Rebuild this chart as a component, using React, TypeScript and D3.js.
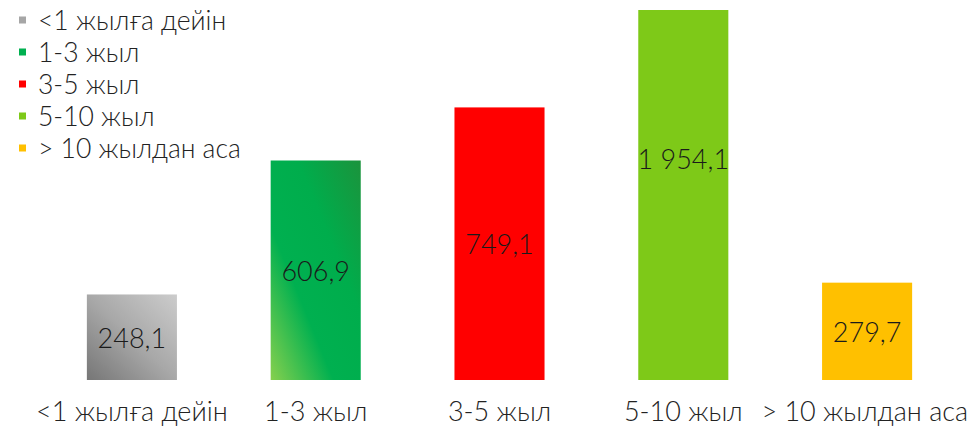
import React from "react";
import * as d3 from "d3";

const categories = ["<1 жылға дейін", "1-3 жыл", "3-5 жыл", "5-10 жыл", "> 10 жылдан аса"];
const values = [248.1, 606.9, 749.1, 1954.1, 279.7];
const valueLabels = ["248,1", "606,9", "749,1", "1 954,1", "279,7"];
const legendColors = ["#a6a6a6", "#00b050", "#ff0000", "#7ec918", "#ffc000"];

const W = 971;
const H = 429;

export default function App() {
  const x = d3.scaleBand<string>().domain(categories).range([40, 959]).paddingInner(0.51).paddingOuter(0.255);
  const y = d3.scaleLinear().domain([19, 1010]).range([380, 10]).clamp(true);
  const font = "Lato, 'Open Sans', sans-serif";
  const fills = ["url(#gGray)", "url(#gGreen)", "#ff0000", "#7ec918", "#ffc000"];
  const last = categories.length - 1;

  return (
    <svg width={W} height={H} style={{ position: "absolute", left: 0, top: 0, background: "#fff" }}>
      <defs>
        <linearGradient id="gGray" x1="0" y1="1" x2="1" y2="0">
          <stop offset="0" stopColor="#767676" />
          <stop offset="0.5" stopColor="#a8a8a8" />
          <stop offset="1" stopColor="#cccccc" />
        </linearGradient>
        <linearGradient id="gGreen" x1="0" y1="1" x2="1" y2="0">
          <stop offset="0" stopColor="#86d04e" />
          <stop offset="0.35" stopColor="#00b050" />
          <stop offset="0.65" stopColor="#00ad4c" />
          <stop offset="1" stopColor="#1b933c" />
        </linearGradient>
      </defs>
      {categories.map((c, i) => {
        const x0 = x(c)!;
        const top = y(values[i]);
        const base = y(19);
        const clipped = values[i] > y.domain()[1];
        const ly = clipped ? base - (base - top) * 0.6 : (top + base) / 2;
        return (
          <g key={c}>
            <rect x={x0} y={top} width={x.bandwidth()} height={base - top} fill={fills[i]} />
            <text
              x={x0 + x.bandwidth() / 2}
              y={ly}
              textAnchor="middle"
              dominantBaseline="central"
              fontFamily={font}
              fontWeight={300}
              fontSize={27}
              fill="#1a1a1a"
            >
              {valueLabels[i]}
            </text>
            <text
              x={i === last ? 968 : x0 + x.bandwidth() / 2}
              y={421}
              textAnchor={i === last ? "end" : "middle"}
              fontFamily={font}
              fontWeight={300}
              fontSize={27}
              fill="#222"
            >
              {c}
            </text>
          </g>
        );
      })}
      {categories.map((c, i) => (
        <g key={"l" + c} transform={`translate(19, ${20 + i * 32})`}>
          <rect x={0} y={-3.5} width={7} height={7} fill={legendColors[i]} />
          <text x={19} y={0} dominantBaseline="central" fontFamily={font} fontWeight={300} fontSize={26.5} fill="#222">
            {c}
          </text>
        </g>
      ))}
    </svg>
  );
}
